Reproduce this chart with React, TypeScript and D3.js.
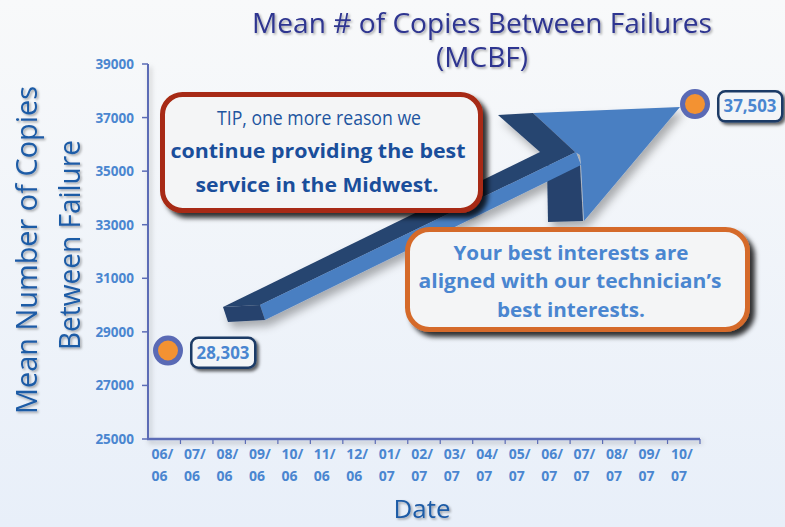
import React from 'react';
import * as d3 from 'd3';

const categories = ['06/06','07/06','08/06','09/06','10/06','11/06','12/06','01/07','02/07','03/07','04/07','05/07','06/07','07/07','08/07','09/07','10/07'];
const yTickValues = [25000, 27000, 29000, 31000, 33000, 35000, 37000, 39000];
const pointDates = ['06/06', '10/07'];
const pointValues = [28303, 37503];
const pointLabels = ['28,303', '37,503'];
const titleLines = ['Mean # of Copies Between Failures', '(MCBF)'];
const yTitleLines = ['Mean Number of Copies', 'Between Failure'];
const xTitle = 'Date';
const tipLines = ['TIP, one more reason we', 'continue providing the best', 'service in the Midwest.'];
const interestLines = ['Your best interests are', 'aligned with our technician\u2019s', 'best interests.'];

const W = 785, H = 527;
const FONT = "'Open Sans', 'Noto Sans', sans-serif";

function FitText(props: any) {
  const { x, y, text, size, weight, width, fill, anchor, filter, transform } = props;
  return (
    <text x={x} y={y} fontSize={size} fontWeight={weight || 400} fill={fill} textAnchor={anchor || 'middle'}
      fontFamily={FONT} textLength={width} lengthAdjust="spacingAndGlyphs" filter={filter} transform={transform}>
      {text}
    </text>
  );
}

export default function App() {
  const x = d3.scaleBand<string>().domain(categories).range([148, 700]);
  const y = d3.scaleLinear().domain([25000, 39000]).range([439, 64]);
  const mx = d3.scalePoint<string>().domain(categories).range([168, 695]);

  const tickColor = '#5b6cb6';
  const labelBlue = '#4a86d0';

  // decorative 3D arrow geometry (annotation)
  const poly = (pts: number[][]) => pts.map(p => p.join(',')).join(' ');
  const tailCap = [[223, 307], [260, 305], [265, 320], [228, 322]];
  const shaftTop = [[223, 307], [540, 152], [576, 152], [260, 305]];
  const shaftFront = [[260, 305], [576, 152], [581, 165], [265, 320]];
  const headSide = [[547, 165], [580, 165], [583, 221], [548, 222]];
  const headWing = [[498, 115], [533, 113], [575, 152], [540, 152]];
  const headFace = [[533, 113], [680, 107], [584, 221], [581, 165], [580, 155], [575, 152]];

  return (
    <svg width={W} height={H} style={{ position: 'absolute', left: 0, top: 0 }} xmlns="http://www.w3.org/2000/svg">
      <defs>
        <linearGradient id="bg" x1="0" y1="0" x2="0" y2="1">
          <stop offset="0" stopColor="#f8f9fa" />
          <stop offset="1" stopColor="#e8eff9" />
        </linearGradient>
        <filter id="tshadow" x="-10%" y="-30%" width="120%" height="160%">
          <feDropShadow dx="1.5" dy="1.5" stdDeviation="1" floodColor="#000" floodOpacity="0.35" />
        </filter>
        <filter id="boxshadow" x="-10%" y="-10%" width="125%" height="130%">
          <feDropShadow dx="5" dy="5" stdDeviation="2.5" floodColor="#000" floodOpacity="0.8" />
        </filter>
        <filter id="smallshadow" x="-20%" y="-20%" width="150%" height="160%">
          <feDropShadow dx="2.5" dy="2.5" stdDeviation="1.5" floodColor="#000" floodOpacity="0.6" />
        </filter>
        <filter id="axshadow" x="-5%" y="-50%" width="110%" height="400%">
          <feDropShadow dx="2" dy="3" stdDeviation="2.5" floodColor="#000" floodOpacity="0.25" />
        </filter>
        <filter id="arrowshadow" x="-10%" y="-20%" width="130%" height="150%">
          <feDropShadow dx="4" dy="6" stdDeviation="4" floodColor="#000" floodOpacity="0.3" />
        </filter>
      </defs>
      <rect x={0} y={0} width={W} height={H} fill="url(#bg)" />

      {/* Title */}
      <g filter="url(#tshadow)">
        <FitText x={482} y={33} text={titleLines[0]} size={27} fill="#2e3590" width={460} />
        <FitText x={482} y={67} text={titleLines[1]} size={27} fill="#2e3590" width={92} />
      </g>

      {/* Y axis title */}
      <g filter="url(#tshadow)">
        <FitText x={-250} y={37} text={yTitleLines[0]} size={28.5} fill="#1f5ba6" width={328} transform="rotate(-90)" />
        <FitText x={-245} y={80} text={yTitleLines[1]} size={28.5} fill="#1f5ba6" width={210} transform="rotate(-90)" />
      </g>

      {/* X title */}
      <FitText x={422} y={518} text={xTitle} size={25} fill="#1f5ba6" width={57} filter="url(#tshadow)" />

      {/* Axes */}
      <g filter="url(#axshadow)">
        <line x1={148} x2={148} y1={y(39000)} y2={y(25000) + 1} stroke={tickColor} strokeWidth={2} />
        <line x1={147} x2={700} y1={y(25000)} y2={y(25000)} stroke={tickColor} strokeWidth={2.5} />
      </g>
      {yTickValues.map(v => (
        <g key={v}>
          <line x1={142} x2={148} y1={y(v)} y2={y(v)} stroke={tickColor} strokeWidth={1.5} />
          <text x={134} y={y(v) + 5} textAnchor="end" fontFamily={FONT} fontWeight={700} fontSize={13.5} fill={labelBlue}>{v}</text>
        </g>
      ))}
      {categories.map(c => (
        <line key={'t' + c} x1={(x(c) as number) + x.bandwidth()} x2={(x(c) as number) + x.bandwidth()} y1={439} y2={444} stroke={tickColor} strokeWidth={1.2} />
      ))}
      {categories.map(c => {
        const [m, yr] = c.split('/');
        const lx = (x(c) as number) + 3.5;
        return (
          <g key={c}>
            <text x={lx} y={459} fontFamily={FONT} fontWeight={700} fontSize={14} fill={labelBlue}>{m + '/'}</text>
            <text x={lx} y={481} fontFamily={FONT} fontWeight={700} fontSize={14} fill={labelBlue}>{yr}</text>
          </g>
        );
      })}

      {/* Arrow */}
      <g filter="url(#arrowshadow)">
        <polygon points={poly(headSide)} fill="#26436d" />
        <polygon points={poly(shaftTop)} fill="#27446f" />
        <polygon points={poly(shaftFront)} fill="#4a7fc2" />
        <polygon points={poly(tailCap)} fill="#26436d" />
        <polygon points={poly(headFace)} fill="#4a7fc2" />
        <polygon points={poly(headWing)} fill="#27446f" />
      </g>

      {/* TIP callout */}
      <rect x={162.5} y={94.5} width={318} height={116} rx={20} fill="#f4f5f6" stroke="#a72a12" strokeWidth={5} filter="url(#boxshadow)" />
      <FitText x={319} y={125} text={tipLines[0]} size={19.5} fill="#1f55a0" width={204} />
      <FitText x={318} y={158} text={tipLines[1]} size={19.5} weight={700} fill="#1a4e9b" width={295} />
      <FitText x={317} y={192} text={tipLines[2]} size={19.5} weight={700} fill="#1a4e9b" width={243} />

      {/* Interests callout */}
      <rect x={407.5} y={229.5} width={340} height={100} rx={22} fill="#f4f5f6" stroke="#d56b2a" strokeWidth={5} filter="url(#boxshadow)" />
      <FitText x={571} y={260} text={interestLines[0]} size={19.5} weight={700} fill={labelBlue} width={235} />
      <FitText x={570} y={288} text={interestLines[1]} size={19.5} weight={700} fill={labelBlue} width={303} />
      <FitText x={571} y={317} text={interestLines[2]} size={19.5} weight={700} fill={labelBlue} width={148} />

      {/* Data points and labels */}
      {pointDates.map((d, i) => {
        const cx = mx(d) as number;
        const cy = y(pointValues[i]);
        const bx = cx + 22;
        const by = cy - 14;
        return (
          <g key={d}>
            <circle cx={cx} cy={cy} r={12.5} fill="#f39232" stroke="#5a6ab5" strokeWidth={5} />
            <rect x={bx + 1.25} y={by + 1.25} width={64} height={30} rx={7} fill="#f3f5f7" stroke="#1d3b66" strokeWidth={2.5} filter="url(#smallshadow)" />
            <FitText x={bx + 33} y={by + 22} text={pointLabels[i]} size={17} weight={700} fill={labelBlue} width={53} />
          </g>
        );
      })}
    </svg>
  );
}
